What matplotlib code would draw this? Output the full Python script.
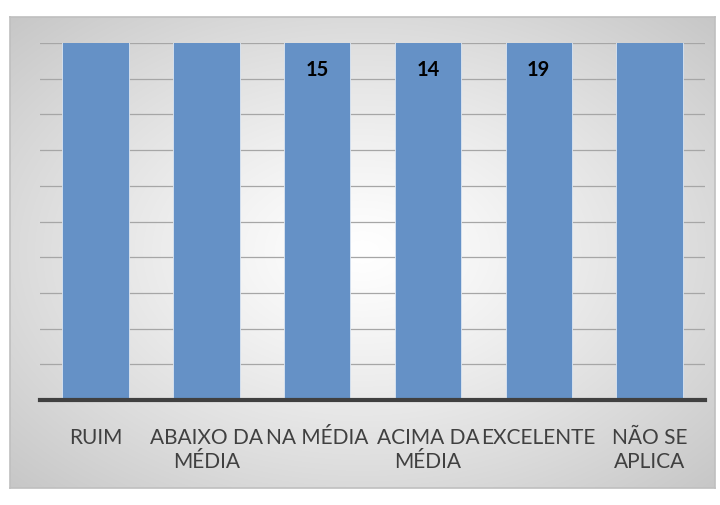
import numpy as np
import matplotlib
matplotlib.use("Agg")
import matplotlib.pyplot as plt

categories = ["RUIM", "ABAIXO DA\nMÉDIA", "NA MÉDIA", "ACIMA DA\nMÉDIA", "EXCELENTE", "NÃO SE\nAPLICA"]
values = [12, 13, 15, 14, 19, 11]
show_label = [False, False, True, True, True, False]
y_max = 10

fig = plt.figure(figsize=(7.2, 5.05), dpi=100)
fig.patch.set_facecolor("white")

# background frame with radial gradient
W, H = 720, 505
fx0, fy0, fx1, fy1 = 10, 17, 715, 488
bg = fig.add_axes([fx0 / W, 1 - fy1 / H, (fx1 - fx0) / W, (fy1 - fy0) / H])
nx, ny = 300, 200
xx, yy = np.meshgrid(np.linspace(-1, 1, nx), np.linspace(-1, 1, ny))
r = np.sqrt(xx ** 2 + yy ** 2) / np.sqrt(2)
r = np.clip(r, 0, 1)
light = 1.0 - 0.22 * r ** 1.2
img = np.dstack([light, light, light])
bg.imshow(img, extent=[0, 1, 0, 1], aspect="auto", interpolation="bilinear")
bg.set_xlim(0, 1)
bg.set_ylim(0, 1)
bg.set_xticks([])
bg.set_yticks([])
for s in bg.spines.values():
    s.set_color("#bfbfbf")
    s.set_linewidth(1.2)

ax = fig.add_axes([40 / W, 1 - 400 / H, 665 / W, (400 - 43) / H])
ax.patch.set_alpha(0)
x = np.arange(len(categories))
for g in range(1, y_max + 1):
    ax.axhline(g, color="#a6a6a6", lw=0.9, zorder=0)
ax.bar(x, values, width=0.6, color="#6591c6", edgecolor="#dce6f2", linewidth=0.6, zorder=2)
ax.set_xlim(-0.5, len(categories) - 0.5)
ax.set_ylim(0, y_max)
ax.axhline(0, color="#404040", lw=3, zorder=3, clip_on=False)

for xi, v, s in zip(x, values, show_label):
    if s:
        ax.text(xi, y_max - 0.75, str(v), ha="center", va="center", fontsize=14.5,
                fontweight="bold", color="black", family="Lato", zorder=4)

ax.set_yticks([])
ax.set_xticks(x)
ax.set_xticklabels(categories, fontsize=15, color="#404040", family="Lato",
                   linespacing=1.25, va="top")
ax.tick_params(axis="x", length=0, pad=20)
for s in ax.spines.values():
    s.set_visible(False)

fig.savefig("out.png", dpi=100)
